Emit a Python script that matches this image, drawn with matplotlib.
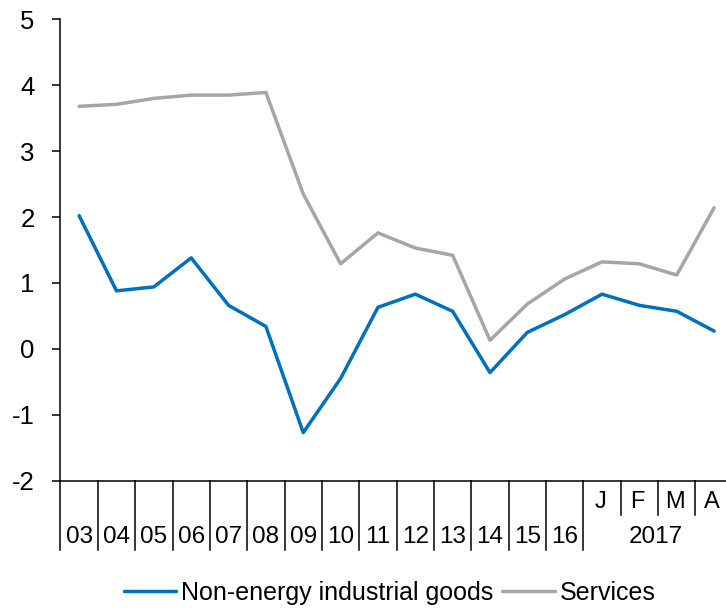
import matplotlib.pyplot as plt
import numpy as np

plt.rcParams['font.family'] = ['Liberation Sans', 'DejaVu Sans']
plt.rcParams['axes.unicode_minus'] = False

# Periods: annual 2003-2016, then monthly Jan-Apr 2017
year_labels = ['03', '04', '05', '06', '07', '08', '09', '10', '11', '12', '13', '14', '15', '16']
month_labels = ['J', 'F', 'M', 'A']
month_year = '2017'

non_energy = [2.02, 0.88, 0.94, 1.38, 0.66, 0.34, -1.27, -0.45, 0.63, 0.83, 0.57, -0.36,
              0.25, 0.52, 0.83, 0.66, 0.57, 0.27]
services = [3.68, 3.71, 3.80, 3.85, 3.85, 3.89, 2.35, 1.29, 1.76, 1.53, 1.42, 0.13,
            0.68, 1.06, 1.32, 1.29, 1.12, 2.14]

blue = '#0070C0'
grey = '#A6A6A6'

fig = plt.figure(figsize=(7.26, 6.11), dpi=100)
ax = fig.add_axes([0.0833, 0.2133, 0.926, 0.7551])

x = np.arange(len(non_energy))
ax.plot(x, non_energy, color=blue, lw=2.5, label='Non-energy industrial goods', solid_capstyle='round')
ax.plot(x, services, color=grey, lw=2.5, label='Services', solid_capstyle='round')

ax.set_xlim(-0.5, len(x) - 0.5)
ax.set_ylim(-2, 5)
ax.set_yticks(range(-2, 6))
ax.tick_params(axis='y', direction='out', length=5.5, width=1.1, pad=13, labelsize=18.5)
ax.set_xticks([])

for s in ['top', 'right']:
    ax.spines[s].set_visible(False)
for s in ['left', 'bottom']:
    ax.spines[s].set_linewidth(1.1)

# category boxes under the axis
trans = ax.get_xaxis_transform()
n_years = len(year_labels)
for i in range(n_years + 1):
    ax.plot([i - 0.5, i - 0.5], [0, -0.150], color='black', lw=1.1, transform=trans, clip_on=False)
for i in range(n_years + 1, len(x)):
    ax.plot([i - 0.5, i - 0.5], [0, -0.074], color='black', lw=1.1, transform=trans, clip_on=False)

for i, lab in enumerate(year_labels):
    ax.text(i, -0.122, lab, ha='center', va='center', fontsize=17.5, transform=trans)
for j, lab in enumerate(month_labels):
    ax.text(n_years + j - 0.05, -0.047, lab, ha='center', va='center', fontsize=17, transform=trans)
ax.text(n_years + 1.45, -0.122, month_year, ha='center', va='center', fontsize=17.5, transform=trans)

fig.legend(loc='center', bbox_to_anchor=(0.537, 1 - 593 / 611), ncol=2, frameon=False,
           fontsize=18, handlelength=2.1, handletextpad=0.2, columnspacing=0.35)

fig.savefig('out.png', dpi=100)
